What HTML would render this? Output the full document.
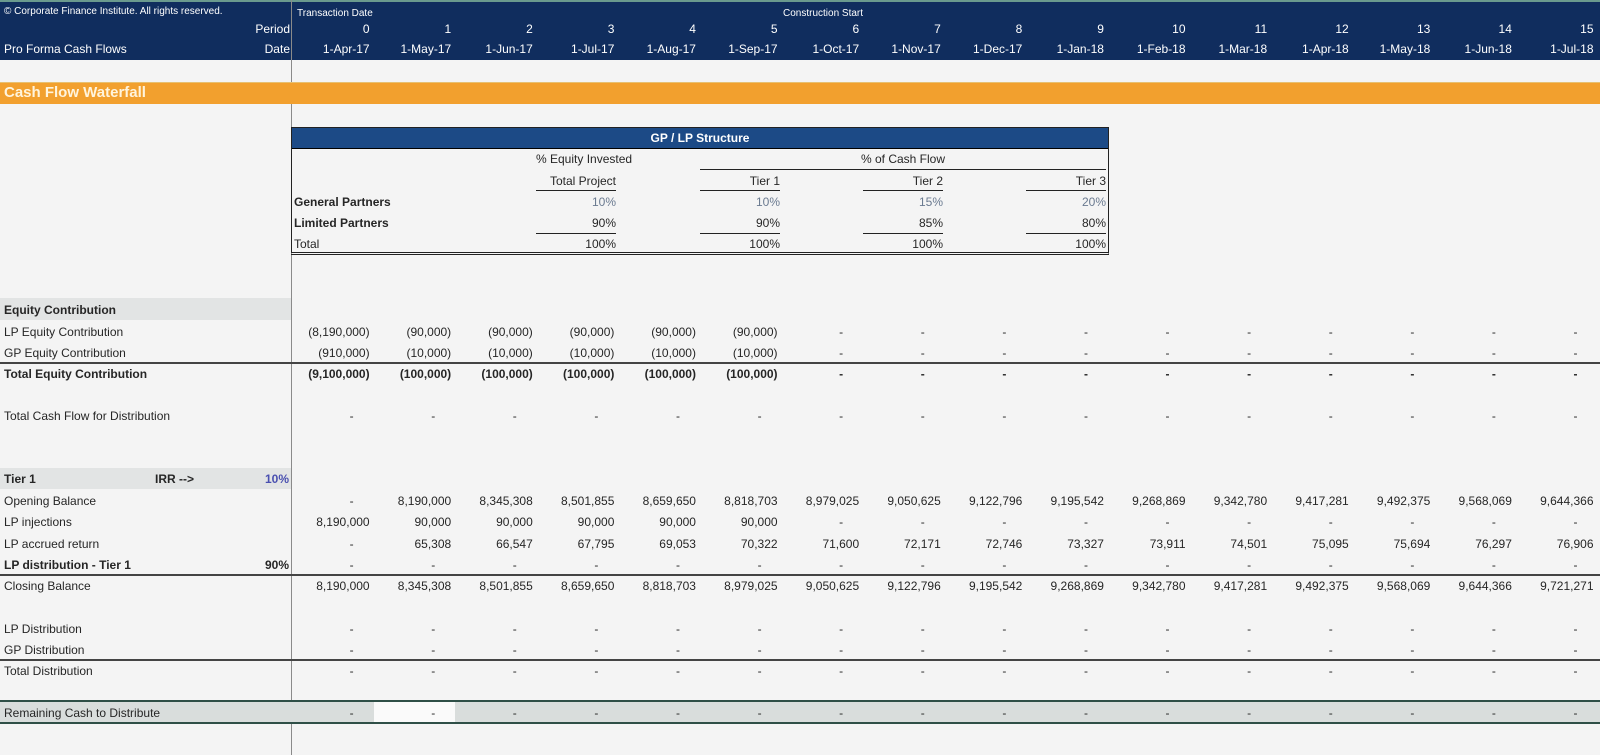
<!DOCTYPE html>
<html><head><meta charset="utf-8">
<style>
*{margin:0;padding:0;box-sizing:border-box}
body{width:1600px;height:755px;background:#f4f4f4;font-family:"Liberation Sans",Arial,sans-serif;font-size:12px;color:#262626;position:relative;overflow:hidden}
.a{position:absolute;white-space:nowrap}
.hd{position:absolute;left:0;top:0;width:1600px;height:60px;background:#102d5e;border-top:2px solid #6a9a8e;color:#fff}
.r{position:absolute;left:0;width:1600px;height:20px;line-height:20px;display:flex}
.r .l{width:292px;padding-left:4px;position:relative}
.r span{width:81.6px;text-align:right;padding-right:4px}
.r span.d{padding-right:20px}
.b{font-weight:bold}
.hl{position:absolute;left:0;width:1600px;background:#444}
.band{position:absolute;left:0;background:#e2e4e4}
.bx{position:absolute}
</style></head><body>
<div class="hd">
<div class="a" style="left:4px;top:4px;font-size:10px">© Corporate Finance Institute. All rights reserved.</div>
<div class="a" style="left:297px;top:6px;font-size:10px">Transaction Date</div>
<div class="a" style="left:783px;top:6px;font-size:10px">Construction Start</div>
<div class="r" style="top:17px;color:#fff"><div class="l"><div class="a" style="right:2px">Period</div></div><span>0</span><span>1</span><span>2</span><span>3</span><span>4</span><span>5</span><span>6</span><span>7</span><span>8</span><span>9</span><span>10</span><span>11</span><span>12</span><span>13</span><span>14</span><span>15</span></div>
<div class="r" style="top:37px;color:#fff"><div class="l">Pro Forma Cash Flows<div class="a" style="right:2px;top:0">Date</div></div><span>1-Apr-17</span><span>1-May-17</span><span>1-Jun-17</span><span>1-Jul-17</span><span>1-Aug-17</span><span>1-Sep-17</span><span>1-Oct-17</span><span>1-Nov-17</span><span>1-Dec-17</span><span>1-Jan-18</span><span>1-Feb-18</span><span>1-Mar-18</span><span>1-Apr-18</span><span>1-May-18</span><span>1-Jun-18</span><span>1-Jul-18</span></div>
</div>
<div class="a" style="left:291px;top:0;width:1px;height:755px;background:#8a8a8a"></div>
<div class="a" style="left:0;top:82px;width:1600px;height:22px;background:#f2a02e;border-top:1px solid #e8c070"></div>
<div class="a" style="left:4px;top:82px;line-height:22px;font-size:15px;font-weight:bold;color:#fff4dc">Cash Flow Waterfall</div>

<!-- GP/LP box -->
<div class="bx" style="left:291px;top:127px;width:818px;height:128px;border:1px solid #222;border-bottom:3px double #222;background:#f4f4f4"></div>
<div class="bx" style="left:292px;top:128px;width:816px;height:21px;background:#1c4a86;border-bottom:1px solid #000;color:#fff;font-weight:bold;text-align:center;line-height:20px">GP / LP Structure</div>
<div class="a" style="left:536px;width:80px;top:152px;text-align:right">% Equity Invested</div>
<div class="a" style="left:700px;width:406px;top:152px;text-align:center">% of Cash Flow</div>
<div class="a" style="left:700px;width:406px;top:169px;height:1px;background:#222"></div>
<div class="a" style="left:536px;width:80px;top:174px;text-align:right">Total Project</div>
<div class="a" style="left:700px;width:80px;top:174px;text-align:right">Tier 1</div>
<div class="a" style="left:863px;width:80px;top:174px;text-align:right">Tier 2</div>
<div class="a" style="left:1026px;width:80px;top:174px;text-align:right">Tier 3</div>
<div class="a" style="left:536px;width:80px;top:190px;height:1px;background:#222"></div>
<div class="a" style="left:700px;width:80px;top:190px;height:1px;background:#222"></div>
<div class="a" style="left:863px;width:80px;top:190px;height:1px;background:#222"></div>
<div class="a" style="left:1026px;width:80px;top:190px;height:1px;background:#222"></div>
<div class="a" style="left:294px;top:195px" ><b>General Partners</b></div>
<div class="a" style="left:536px;width:80px;top:195px;text-align:right;color:#6a7a90">10%</div>
<div class="a" style="left:700px;width:80px;top:195px;text-align:right;color:#6a7a90">10%</div>
<div class="a" style="left:863px;width:80px;top:195px;text-align:right;color:#6a7a90">15%</div>
<div class="a" style="left:1026px;width:80px;top:195px;text-align:right;color:#6a7a90">20%</div>
<div class="a" style="left:294px;top:216px"><b>Limited Partners</b></div>
<div class="a" style="left:536px;width:80px;top:216px;text-align:right">90%</div>
<div class="a" style="left:700px;width:80px;top:216px;text-align:right">90%</div>
<div class="a" style="left:863px;width:80px;top:216px;text-align:right">85%</div>
<div class="a" style="left:1026px;width:80px;top:216px;text-align:right">80%</div>
<div class="a" style="left:536px;width:80px;top:233px;height:1px;background:#222"></div>
<div class="a" style="left:700px;width:80px;top:233px;height:1px;background:#222"></div>
<div class="a" style="left:863px;width:80px;top:233px;height:1px;background:#222"></div>
<div class="a" style="left:1026px;width:80px;top:233px;height:1px;background:#222"></div>
<div class="a" style="left:294px;top:237px">Total</div>
<div class="a" style="left:536px;width:80px;top:237px;text-align:right">100%</div>
<div class="a" style="left:700px;width:80px;top:237px;text-align:right">100%</div>
<div class="a" style="left:863px;width:80px;top:237px;text-align:right">100%</div>
<div class="a" style="left:1026px;width:80px;top:237px;text-align:right">100%</div>

<!-- bands -->
<div class="band" style="top:298px;width:291px;height:22px"></div>
<div class="band" style="top:468px;width:291px;height:21px"></div>
<div class="band" style="top:702px;width:1600px;height:21px;background:#d9dddc"></div>
<div class="a" style="left:374px;top:702px;width:81px;height:21px;background:#fafafa"></div>

<div class="r" style="top:300px"><div class="l b">Equity Contribution</div></div>
<div class="r" style="top:322px"><div class="l">LP Equity Contribution</div><span>(8,190,000)</span><span>(90,000)</span><span>(90,000)</span><span>(90,000)</span><span>(90,000)</span><span>(90,000)</span><span class="d">-</span><span class="d">-</span><span class="d">-</span><span class="d">-</span><span class="d">-</span><span class="d">-</span><span class="d">-</span><span class="d">-</span><span class="d">-</span><span class="d">-</span></div>
<div class="r" style="top:343px"><div class="l">GP Equity Contribution</div><span>(910,000)</span><span>(10,000)</span><span>(10,000)</span><span>(10,000)</span><span>(10,000)</span><span>(10,000)</span><span class="d">-</span><span class="d">-</span><span class="d">-</span><span class="d">-</span><span class="d">-</span><span class="d">-</span><span class="d">-</span><span class="d">-</span><span class="d">-</span><span class="d">-</span></div>
<div class="hl" style="top:362px;height:2px"></div>
<div class="r b" style="top:364px"><div class="l">Total Equity Contribution</div><span>(9,100,000)</span><span>(100,000)</span><span>(100,000)</span><span>(100,000)</span><span>(100,000)</span><span>(100,000)</span><span class="d">-</span><span class="d">-</span><span class="d">-</span><span class="d">-</span><span class="d">-</span><span class="d">-</span><span class="d">-</span><span class="d">-</span><span class="d">-</span><span class="d">-</span></div>
<div class="r" style="top:406px"><div class="l">Total Cash Flow for Distribution</div><span class="d">-</span><span class="d">-</span><span class="d">-</span><span class="d">-</span><span class="d">-</span><span class="d">-</span><span class="d">-</span><span class="d">-</span><span class="d">-</span><span class="d">-</span><span class="d">-</span><span class="d">-</span><span class="d">-</span><span class="d">-</span><span class="d">-</span><span class="d">-</span></div>

<div class="r b" style="top:469px"><div class="l">Tier 1<div class="a" style="left:155px;top:0">IRR --&gt;</div><div class="a" style="right:3px;top:0;color:#4a50b0">10%</div></div></div>
<div class="r" style="top:491px"><div class="l">Opening Balance</div><span class="d">-</span><span>8,190,000</span><span>8,345,308</span><span>8,501,855</span><span>8,659,650</span><span>8,818,703</span><span>8,979,025</span><span>9,050,625</span><span>9,122,796</span><span>9,195,542</span><span>9,268,869</span><span>9,342,780</span><span>9,417,281</span><span>9,492,375</span><span>9,568,069</span><span>9,644,366</span></div>
<div class="r" style="top:512px"><div class="l">LP injections</div><span>8,190,000</span><span>90,000</span><span>90,000</span><span>90,000</span><span>90,000</span><span>90,000</span><span class="d">-</span><span class="d">-</span><span class="d">-</span><span class="d">-</span><span class="d">-</span><span class="d">-</span><span class="d">-</span><span class="d">-</span><span class="d">-</span><span class="d">-</span></div>
<div class="r" style="top:534px"><div class="l">LP accrued return</div><span class="d">-</span><span>65,308</span><span>66,547</span><span>67,795</span><span>69,053</span><span>70,322</span><span>71,600</span><span>72,171</span><span>72,746</span><span>73,327</span><span>73,911</span><span>74,501</span><span>75,095</span><span>75,694</span><span>76,297</span><span>76,906</span></div>
<div class="r" style="top:555px"><div class="l b">LP distribution - Tier 1<div class="a" style="right:3px;top:0">90%</div></div><span class="d">-</span><span class="d">-</span><span class="d">-</span><span class="d">-</span><span class="d">-</span><span class="d">-</span><span class="d">-</span><span class="d">-</span><span class="d">-</span><span class="d">-</span><span class="d">-</span><span class="d">-</span><span class="d">-</span><span class="d">-</span><span class="d">-</span><span class="d">-</span></div>
<div class="hl" style="top:574px;height:2px"></div>
<div class="r" style="top:576px"><div class="l">Closing Balance</div><span>8,190,000</span><span>8,345,308</span><span>8,501,855</span><span>8,659,650</span><span>8,818,703</span><span>8,979,025</span><span>9,050,625</span><span>9,122,796</span><span>9,195,542</span><span>9,268,869</span><span>9,342,780</span><span>9,417,281</span><span>9,492,375</span><span>9,568,069</span><span>9,644,366</span><span>9,721,271</span></div>

<div class="r" style="top:619px"><div class="l">LP Distribution</div><span class="d">-</span><span class="d">-</span><span class="d">-</span><span class="d">-</span><span class="d">-</span><span class="d">-</span><span class="d">-</span><span class="d">-</span><span class="d">-</span><span class="d">-</span><span class="d">-</span><span class="d">-</span><span class="d">-</span><span class="d">-</span><span class="d">-</span><span class="d">-</span></div>
<div class="r" style="top:640px"><div class="l">GP Distribution</div><span class="d">-</span><span class="d">-</span><span class="d">-</span><span class="d">-</span><span class="d">-</span><span class="d">-</span><span class="d">-</span><span class="d">-</span><span class="d">-</span><span class="d">-</span><span class="d">-</span><span class="d">-</span><span class="d">-</span><span class="d">-</span><span class="d">-</span><span class="d">-</span></div>
<div class="hl" style="top:659px;height:2px"></div>
<div class="r" style="top:661px"><div class="l">Total Distribution</div><span class="d">-</span><span class="d">-</span><span class="d">-</span><span class="d">-</span><span class="d">-</span><span class="d">-</span><span class="d">-</span><span class="d">-</span><span class="d">-</span><span class="d">-</span><span class="d">-</span><span class="d">-</span><span class="d">-</span><span class="d">-</span><span class="d">-</span><span class="d">-</span></div>
<div class="hl" style="top:700px;height:2px;background:#2f4f47"></div>
<div class="r" style="top:703px"><div class="l">Remaining Cash to Distribute</div><span class="d">-</span><span class="d">-</span><span class="d">-</span><span class="d">-</span><span class="d">-</span><span class="d">-</span><span class="d">-</span><span class="d">-</span><span class="d">-</span><span class="d">-</span><span class="d">-</span><span class="d">-</span><span class="d">-</span><span class="d">-</span><span class="d">-</span><span class="d">-</span></div>
<div class="hl" style="top:722px;height:2px;background:#2f4f47"></div>
</body></html>
